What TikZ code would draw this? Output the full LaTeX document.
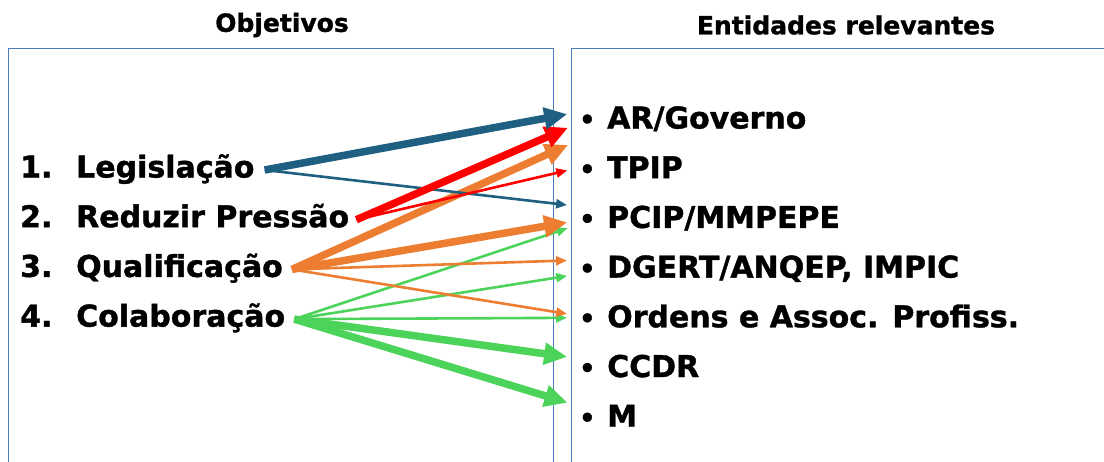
\documentclass[tikz,border=0pt]{standalone}
\usepackage{fontspec}
\setmainfont{DejaVu Sans}[BoldFeatures={FakeBold=1.2}]
\usetikzlibrary{positioning,arrows.meta,calc}
\definecolor{legblue}{HTML}{1F5F82}
\definecolor{pressred}{HTML}{FF0000}
\definecolor{qualorange}{HTML}{ED7D31}
\definecolor{colgreen}{HTML}{4CD35A}
\definecolor{boxblue}{HTML}{4A7EBB}
\newcommand{\dotmark}{\makebox[28pt][l]{\scalebox{0.85}{•}}}
\tikzset{
  title/.style={font=\bfseries\fontsize{25}{30}\selectfont},
  item/.style={inner sep=0pt, font=\bfseries\fontsize{30}{36}\selectfont,
    text height=22pt, text depth=7pt},
  frame/.style={draw=boxblue, line width=1pt},
  heavy/.style={line width=7.5pt, -{Triangle[length=23pt,width=21pt]}, shorten >=12pt},
  light/.style={line width=2.6pt, -{Triangle[length=11pt,width=9pt]}, shorten >=12pt},
}

\begin{document}
\begin{tikzpicture}[x=1pt,y=-1pt,node distance=20.3pt]
\clip (0,0) rectangle (1104,461);
% frames and headings
\draw[frame] (8,480) -- (8,48) -- (553,48) -- (553,480);
\draw[frame] (571,480) -- (571,48) -- (1120,48);
\node[title] at (282,25) (objt) {Objetivos};
\node[title] at (846,25) (entt) {Entidades relevantes};

% objectives
\node[item, anchor=west] at (20,170) (leg) {\makebox[56pt][l]{1.}Legislação};
\node[item, below=of leg.south west, anchor=north west] (red) {\makebox[56pt][l]{2.}Reduzir Pressão};
\node[item, below=of red.south west, anchor=north west] (qual) {\makebox[56pt][l]{3.}Qualificação};
\node[item, below=of qual.south west, anchor=north west] (col) {\makebox[56pt][l]{4.}Colaboração};

% entities
\node[item, anchor=west] at (579,121) (ar) {\dotmark AR/Governo};
\node[item, below=of ar.south west, anchor=north west] (tpip) {\dotmark TPIP};
\node[item, below=of tpip.south west, anchor=north west] (pcip) {\dotmark PCIP/MMPEPE};
\node[item, below=of pcip.south west, anchor=north west] (dgert) {\dotmark DGERT/ANQEP, IMPIC};
\node[item, below=of dgert.south west, anchor=north west] (ord) {\dotmark Ordens e Assoc. Profiss.};
\node[item, below=of ord.south west, anchor=north west] (ccdr) {\dotmark CCDR};
\node[item, below=of ccdr.south west, anchor=north west] (m) {\dotmark M};

% arrows
\draw[colgreen, light] ([xshift=9pt]col.east) -- ([yshift=-4pt]pcip.west);
\draw[colgreen, light] ([xshift=9pt]col.east) -- ([yshift=-4pt]dgert.west);
\draw[colgreen, light] ([xshift=9pt]col.east) -- ([yshift=2pt]ord.west);
\draw[colgreen, heavy] ([xshift=9pt]col.east) -- ([yshift=11pt]ccdr.west);
\draw[colgreen, heavy] ([xshift=9pt]col.east) -- ([yshift=13pt]m.west);

\draw[qualorange, heavy] ([xshift=9pt]qual.east) -- ([yshift=-19pt]ar.west);
\draw[qualorange, heavy] ([xshift=9pt]qual.east) -- (pcip.west);
\draw[qualorange, light] ([xshift=9pt]qual.east) -- ([yshift=10pt]dgert.west);
\draw[qualorange, light] ([xshift=9pt]qual.east) -- ([yshift=4pt]ord.west);

\draw[legblue, light] ([xshift=10pt]leg.east) -- ([yshift=14pt]pcip.west);
\draw[pressred, heavy] ([xshift=7pt]red.east) -- ([yshift=-2pt]ar.west);
\draw[pressred, light] ([xshift=7pt]red.east) -- ([yshift=3pt]tpip.west);
\draw[legblue, heavy] ([xshift=10pt]leg.east) -- ([yshift=9pt]ar.west);
\end{tikzpicture}
\end{document}
